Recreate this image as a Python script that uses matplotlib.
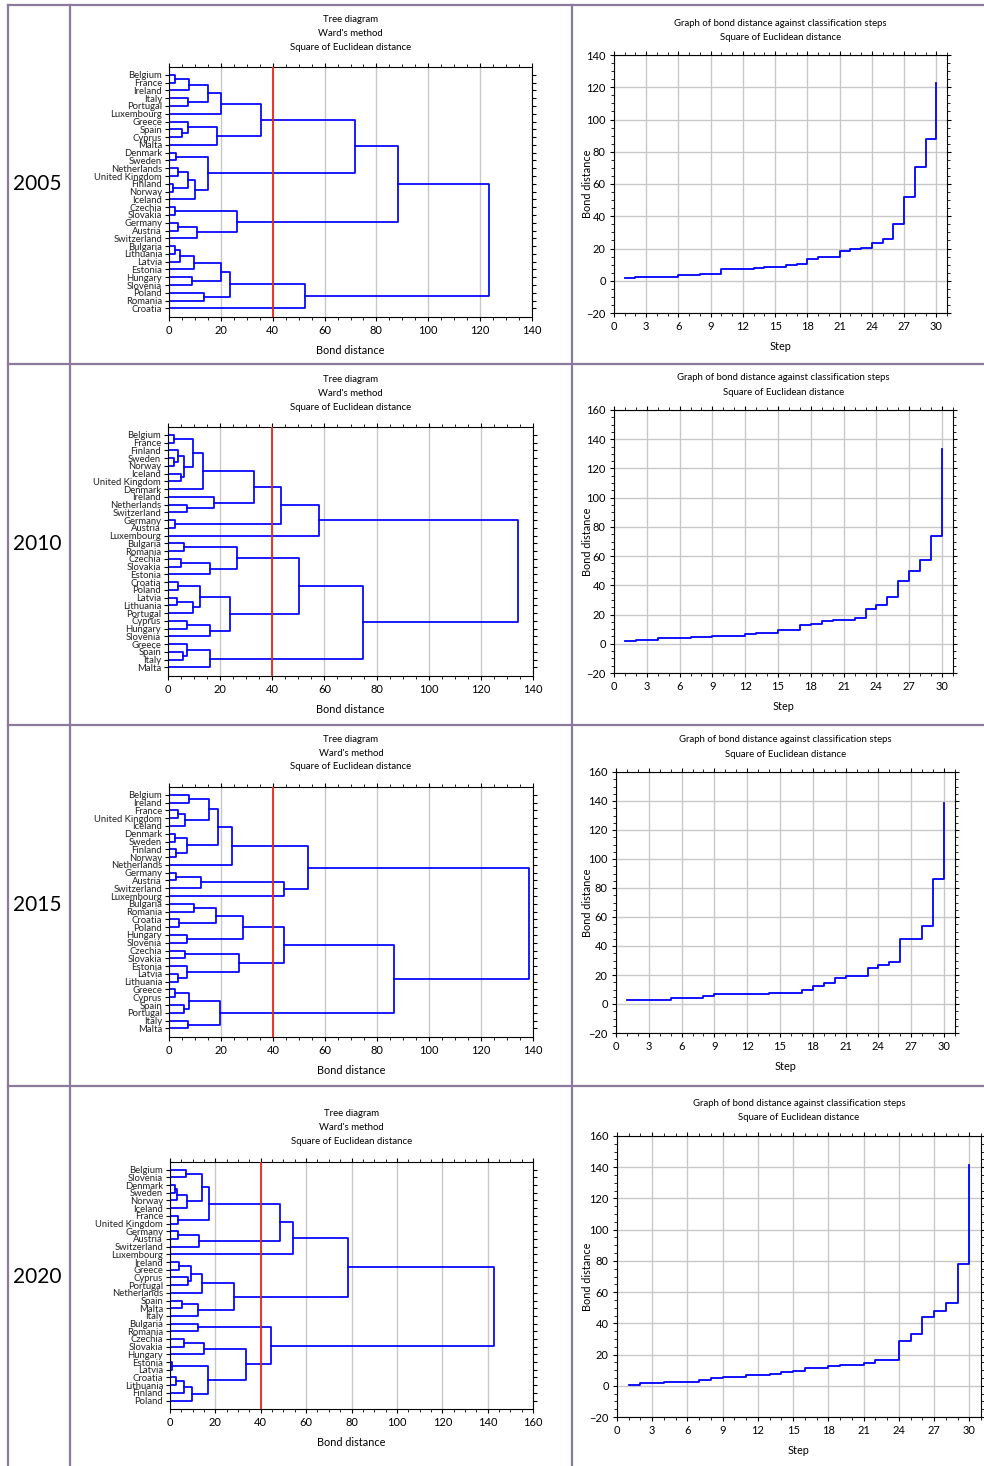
import matplotlib
matplotlib.use('Agg')
import matplotlib.pyplot as plt
from matplotlib.lines import Line2D
from matplotlib.ticker import MultipleLocator

W, H = 984, 1466
plt.rcParams['font.family'] = ['Lato', 'DejaVu Sans']
NARROW = ['Liberation Sans Narrow', 'Lato', 'DejaVu Sans']

years = ['2005', '2010', '2015', '2020']

# --- dendrogram leaves (top to bottom) and merges: (first, split, end, height) ---
leaves_2005 = ['Belgium', 'France', 'Ireland', 'Italy', 'Portugal', 'Luxembourg', 'Greece', 'Spain',
               'Cyprus', 'Malta', 'Denmark', 'Sweden', 'Netherlands', 'United Kingdom', 'Finland',
               'Norway', 'Iceland', 'Czechia', 'Slovakia', 'Germany', 'Austria', 'Switzerland',
               'Bulgaria', 'Lithuania', 'Latvia', 'Estonia', 'Hungary', 'Slovenia', 'Poland',
               'Romania', 'Croatia']
merges_2005 = [(0, 1, 2, 2.2), (0, 2, 3, 7.8), (3, 4, 5, 7.2), (0, 3, 5, 15.2), (0, 5, 6, 20.0),
               (7, 8, 9, 5.0), (6, 7, 9, 7.2), (6, 9, 10, 18.5), (0, 6, 10, 35.3),
               (10, 11, 12, 2.8), (12, 13, 14, 3.3), (14, 15, 16, 1.5), (12, 14, 16, 7.2),
               (12, 16, 17, 10.2), (10, 12, 17, 15.2), (0, 10, 17, 71.6),
               (17, 18, 19, 2.2), (19, 20, 21, 3.3), (19, 21, 22, 10.7), (17, 19, 22, 26.3),
               (0, 17, 22, 88.2), (22, 23, 24, 2.2), (22, 24, 25, 4.4), (22, 25, 26, 9.5),
               (26, 27, 28, 9.0), (22, 26, 28, 20.0), (28, 29, 30, 13.5), (22, 28, 30, 23.4),
               (22, 30, 31, 52.6), (0, 22, 31, 123.4)]

leaves_2010 = ['Belgium', 'France', 'Finland', 'Sweden', 'Norway', 'Iceland', 'United Kingdom',
               'Denmark', 'Ireland', 'Netherlands', 'Switzerland', 'Germany', 'Austria',
               'Luxembourg', 'Bulgaria', 'Romania', 'Czechia', 'Slovakia', 'Estonia', 'Croatia',
               'Poland', 'Latvia', 'Lithuania', 'Portugal', 'Cyprus', 'Hungary', 'Slovenia',
               'Greece', 'Spain', 'Italy', 'Malta']
merges_2010 = [(0, 1, 2, 2.3), (3, 4, 5, 2.3), (2, 3, 5, 3.8), (5, 6, 7, 5.0), (2, 5, 7, 6.3),
               (0, 2, 7, 9.5), (0, 7, 8, 13.5), (9, 10, 11, 7.2), (8, 9, 11, 17.8),
               (0, 8, 11, 32.8), (11, 12, 13, 2.8), (0, 11, 13, 43.3), (0, 13, 14, 58.0),
               (14, 15, 16, 6.3), (16, 17, 18, 5.0), (16, 18, 19, 16.2), (14, 16, 19, 26.3),
               (19, 20, 21, 3.8), (21, 22, 23, 3.3), (21, 23, 24, 9.5), (19, 21, 24, 12.3),
               (24, 25, 26, 7.2), (24, 26, 27, 16.2), (19, 24, 27, 23.8), (14, 19, 27, 50.1),
               (28, 29, 30, 5.6), (27, 28, 30, 7.2), (27, 30, 31, 16.2), (14, 27, 31, 74.7),
               (0, 14, 31, 134.1)]

leaves_2015 = ['Belgium', 'Ireland', 'France', 'United Kingdom', 'Iceland', 'Denmark', 'Sweden',
               'Finland', 'Norway', 'Netherlands', 'Germany', 'Austria', 'Switzerland',
               'Luxembourg', 'Bulgaria', 'Romania', 'Croatia', 'Poland', 'Hungary', 'Slovenia',
               'Czechia', 'Slovakia', 'Estonia', 'Latvia', 'Lithuania', 'Greece', 'Cyprus',
               'Spain', 'Portugal', 'Italy', 'Malta']
merges_2015 = [(0, 1, 2, 7.8), (2, 3, 4, 3.3), (2, 4, 5, 6.3), (0, 2, 5, 15.2), (5, 6, 7, 2.2),
               (7, 8, 9, 2.8), (5, 7, 9, 6.8), (0, 5, 9, 19.0), (0, 9, 10, 24.2),
               (10, 11, 12, 2.8), (10, 12, 13, 12.2), (10, 13, 14, 44.2), (0, 10, 14, 53.6),
               (14, 15, 16, 9.5), (16, 17, 18, 3.9), (14, 16, 18, 17.9), (18, 19, 20, 6.8),
               (14, 18, 20, 28.5), (20, 21, 22, 6.2), (23, 24, 25, 3.3), (22, 23, 25, 6.8),
               (20, 22, 25, 26.9), (14, 20, 25, 44.2), (25, 26, 27, 2.2), (27, 28, 29, 5.7),
               (25, 27, 29, 7.8), (29, 30, 31, 7.2), (25, 29, 31, 19.7), (14, 25, 31, 86.4),
               (0, 14, 31, 138.3)]

leaves_2020 = ['Belgium', 'Slovenia', 'Denmark', 'Sweden', 'Norway', 'Iceland', 'France',
               'United Kingdom', 'Germany', 'Austria', 'Switzerland', 'Luxembourg', 'Ireland',
               'Greece', 'Cyprus', 'Portugal', 'Netherlands', 'Spain', 'Malta', 'Italy',
               'Bulgaria', 'Romania', 'Czechia', 'Slovakia', 'Hungary', 'Estonia', 'Latvia',
               'Croatia', 'Lithuania', 'Finland', 'Poland']
merges_2020 = [(0, 1, 2, 6.9), (2, 3, 4, 2.1), (2, 4, 5, 2.9), (2, 5, 6, 7.4), (0, 2, 6, 14.3),
               (6, 7, 8, 3.5), (0, 6, 8, 17.0), (8, 9, 10, 3.5), (8, 10, 11, 13.0),
               (0, 8, 11, 48.4), (0, 11, 12, 54.1), (12, 13, 14, 4.1), (14, 15, 16, 8.1),
               (12, 14, 16, 9.3), (12, 16, 17, 14.3), (17, 18, 19, 5.5), (17, 19, 20, 12.5),
               (12, 17, 20, 28.3), (0, 12, 20, 78.3), (20, 21, 22, 12.5), (22, 23, 24, 6.0),
               (22, 24, 25, 15.2), (25, 26, 27, 0.9), (27, 28, 29, 2.7), (27, 29, 30, 6.1),
               (27, 30, 31, 9.8), (25, 27, 31, 16.9), (22, 25, 31, 33.6), (20, 22, 31, 44.4),
               (0, 20, 31, 142.6)]

# --- bond distance at each of the 30 classification steps ---
steps_2005 = [1.7, 2.5, 2.5, 2.5, 2.5, 3.3, 3.3, 4.1, 4.1, 7.0, 7.0, 7.0, 7.9, 8.7, 8.7,
              9.7, 10.6, 13.5, 14.9, 14.9, 18.6, 19.5, 20.5, 23.2, 25.9, 35.0, 52.2, 70.8,
              88.0, 122.6]
steps_2010 = [1.8, 2.7, 2.7, 3.7, 3.7, 3.7, 4.6, 4.6, 5.5, 5.5, 5.5, 6.4, 7.5, 7.5, 9.6,
              9.6, 12.6, 13.7, 15.5, 16.4, 16.4, 17.4, 23.5, 26.5, 32.2, 43.2, 50.0, 57.1,
              74.0, 133.4]
steps_2015 = [3.0, 3.0, 3.0, 3.0, 3.9, 3.9, 3.9, 5.7, 6.6, 6.6, 6.6, 6.6, 6.6, 7.6, 7.6,
              7.6, 9.9, 12.6, 14.7, 17.7, 19.5, 19.5, 24.5, 26.6, 28.7, 44.7, 44.7, 53.7,
              86.4, 138.3]
steps_2020 = [0.7, 1.6, 1.6, 2.7, 2.7, 2.7, 3.7, 4.8, 5.7, 5.7, 6.7, 6.7, 7.6, 8.6, 9.7,
              11.6, 11.6, 12.5, 13.6, 13.6, 14.6, 16.8, 16.8, 28.5, 33.4, 44.3, 48.2, 53.0,
              77.8, 141.7]

leaves = [leaves_2005, leaves_2010, leaves_2015, leaves_2020]
merges = [merges_2005, merges_2010, merges_2015, merges_2020]
steps = [steps_2005, steps_2010, steps_2015, steps_2020]

# layout in pixels (left, top, right, bottom)
tree_box = [(169, 67, 532, 317), (168, 427, 533, 676), (169, 787, 533, 1037), (170, 1162, 533, 1409)]
step_box = [(614, 55, 947, 313), (614, 410, 953, 673), (616, 772, 955, 1033), (617, 1136, 981, 1417)]
tree_xmax = [140, 140, 140, 160]
step_ymax = [140, 160, 160, 160]
year_y = [184, 544, 905, 1277]

BLUE = '#0000ff'
GRID = '#c8c8c8'
BORDER = '#8c7a9c'


def box(l, t, r, b):
    return [l / W, 1 - b / H, (r - l) / W, (b - t) / H]


def ftext(x, y, s, **kw):
    fig.text(x / W, 1 - y / H, s, ha='center', va='center', **kw)


def draw_tree(ax, names, links):
    pos = {(i, i + 1): (0.0, float(i)) for i in range(len(names))}
    for s, m, e, h in sorted(links, key=lambda q: q[2] - q[0]):
        xl, yl = pos[(s, m)]
        xr, yr = pos[(m, e)]
        ax.plot([xl, h, h, xr], [yl, yl, yr, yr], color=BLUE, lw=1.25)
        pos[(s, e)] = (h, (yl + yr) / 2)


fig = plt.figure(figsize=(W / 100, H / 100), dpi=100)

for k in range(4):
    # dendrogram
    l, t, r, b = tree_box[k]
    ax = fig.add_axes(box(l, t, r, b))
    draw_tree(ax, leaves[k], merges[k])
    ax.axvline(40, color='#e8261e', lw=1.3, zorder=3)
    ax.set_xlim(0, tree_xmax[k])
    ax.set_ylim(31.1, -1.0)
    ax.xaxis.set_major_locator(MultipleLocator(20))
    ax.xaxis.set_minor_locator(MultipleLocator(5))
    ax.set_yticks(range(len(leaves[k])))
    ax.set_yticklabels(leaves[k], fontsize=6.8, family=NARROW, color='#222222')
    ax.grid(axis='x', color=GRID, lw=1.0)
    ax.set_axisbelow(True)
    ax.tick_params(axis='x', which='both', top=True, labelsize=8, length=3, pad=3)
    ax.tick_params(axis='x', which='minor', length=2)
    ax.tick_params(axis='y', right=True, length=3, pad=2)
    ax.set_xlabel('Bond distance', fontsize=7.8, labelpad=6)
    for sp in ax.spines.values():
        sp.set_linewidth(0.8)
    cx = (l + r) / 2
    for j, s in enumerate(['Tree diagram', "Ward's method", 'Square of Euclidean distance']):
        ftext(cx, t - 48 + j * 14, s, fontsize=6.9)

    # bond distance against step
    l, t, r, b = step_box[k]
    ax = fig.add_axes(box(l, t, r, b))
    ax.plot(range(1, 31), steps[k], drawstyle='steps-post', color=BLUE, lw=1.3)
    ax.set_xlim(0, 31)
    ax.set_ylim(-20, step_ymax[k])
    ax.xaxis.set_major_locator(MultipleLocator(3))
    ax.xaxis.set_minor_locator(MultipleLocator(1))
    ax.yaxis.set_major_locator(MultipleLocator(20))
    ax.yaxis.set_minor_locator(MultipleLocator(5))
    ax.grid(which='major', color=GRID, lw=1.0)
    ax.set_axisbelow(True)
    ax.tick_params(which='both', top=True, right=True, labelsize=8, length=3, pad=3)
    ax.tick_params(which='minor', length=2)
    ax.set_xlabel('Step', fontsize=7.8, labelpad=6)
    ax.set_ylabel('Bond distance', fontsize=7.8)
    ax.yaxis.set_label_coords((593 - l) / (r - l), 0.5)
    for sp in ax.spines.values():
        sp.set_linewidth(0.8)
    cx = (l + r) / 2
    ftext(cx, t - 32, 'Graph of bond distance against classification steps', fontsize=6.9)
    ftext(cx, t - 18, 'Square of Euclidean distance', fontsize=6.9)

    ftext(37, year_y[k], years[k], fontsize=15)

# table borders
row_lines = [5, 364, 725, 1086]
for y in row_lines:
    fig.add_artist(Line2D([8 / W, 1], [1 - y / H] * 2, color=BORDER, lw=1.6))
for x in [8, 70, 572]:
    fig.add_artist(Line2D([x / W] * 2, [1 - 5 / H, 0], color=BORDER, lw=1.6))

fig.savefig('out.png', dpi=100)
